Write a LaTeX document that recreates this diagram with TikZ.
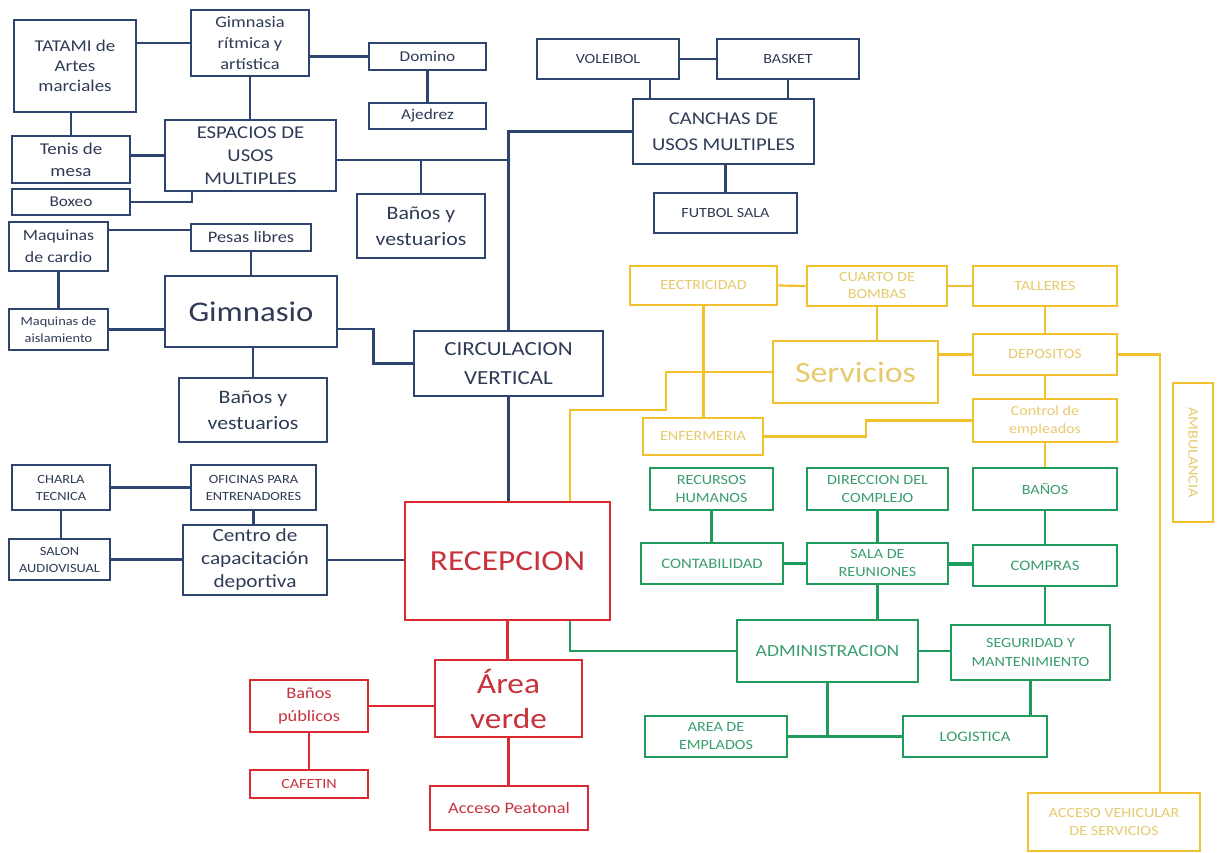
\documentclass[tikz,border=0pt]{standalone}
\usepackage{fontspec}
\setmainfont{Carlito}[FakeStretch=1.15]
\usetikzlibrary{calc}
\definecolor{bline}{HTML}{2E4470}
\definecolor{btext}{HTML}{2F3B55}
\definecolor{rline}{HTML}{DC2A32}
\definecolor{rtext}{HTML}{C8323C}
\definecolor{yline}{HTML}{F2C12E}
\definecolor{ytext}{HTML}{E6CB6E}
\definecolor{gline}{HTML}{1F9B5C}
\definecolor{gtext}{HTML}{3A9E6E}
\tikzset{
  box/.style={draw, line width=2.8pt, inner sep=1pt, align=center},
  bl/.style={box, draw=bline, text=btext},
  rd/.style={box, draw=rline, text=rtext},
  yl/.style={box, draw=yline, text=ytext},
  gr/.style={box, draw=gline, text=gtext},
  sz/.style n args={2}{minimum width=#1, minimum height=#2},
  fs/.style n args={2}{font=\fontsize{#1}{#2}\selectfont},
  bcon/.style={draw=bline, line width=2.2pt},
  rcon/.style={draw=rline, line width=2.2pt},
  ycon/.style={draw=yline, line width=2.2pt},
  gcon/.style={draw=gline, line width=2.6pt},
}
\begin{document}
\begin{tikzpicture}[x=1pt,y=-1pt]
\useasboundingbox[fill=white] (0,0) rectangle (1223,853);
% ---------- blue ----------
\node[bl, sz={122pt}{92pt}, fs={16.5}{20}] (tatami) at (75,66) {TATAMI de\\Artes\\marciales};
\node[bl, sz={118pt}{66pt}, fs={16}{21}] (gimn) at (250,43) {Gimnasia\\rítmica y\\artística};
\node[bl, sz={117pt}{27pt}, fs={15}{18}] (domino) at (427.5,56.5) {Domino};
\node[bl, sz={117pt}{26pt}, fs={15}{18}] (ajedrez) at (427.5,116) {Ajedrez};
\node[bl, sz={118pt}{47pt}, fs={16.5}{22}] (tenis) at (71,159.5) {Tenis de\\mesa};
\node[bl, sz={171pt}{71pt}, fs={18}{23}] (espacios) at (250.5,155.5) {ESPACIOS DE\\USOS\\MULTIPLES};
\node[bl, sz={118pt}{26pt}, fs={15}{18}] (boxeo) at (71,202) {Boxeo};
\node[bl, sz={128pt}{64pt}, fs={19}{26}] (banos1) at (421,226) {Baños y\\vestuarios};
\node[bl, sz={99pt}{49pt}, fs={15.5}{22}] (cardio) at (58.5,246.5) {Maquinas\\de cardio};
\node[bl, sz={120pt}{27pt}, fs={16}{18}] (pesas) at (251,237.5) {Pesas libres};
\node[bl, sz={99pt}{41pt}, fs={12.5}{17}] (aisla) at (58.5,329.5) {Maquinas de\\aislamiento};
\node[bl, sz={172pt}{71pt}, fs={28.5}{30}] (gimnasio) at (251,311.5) {Gimnasio};
\node[bl, sz={148pt}{64pt}, fs={19}{26}] (banos2) at (253,410) {Baños y\\vestuarios};
\node[bl, sz={189pt}{65pt}, fs={20}{29}] (circ) at (508.5,363.5) {CIRCULACION\\VERTICAL};
\node[bl, sz={142pt}{40pt}, fs={14}{18}] (voleibol) at (608,59) {VOLEIBOL};
\node[bl, sz={142pt}{40pt}, fs={14}{18}] (basket) at (788,59) {BASKET};
\node[bl, sz={181pt}{65pt}, fs={18}{26}] (canchas) at (723.5,131.5) {CANCHAS DE\\USOS MULTIPLES};
\node[bl, sz={143pt}{40pt}, fs={14}{18}] (futbol) at (725.5,213) {FUTBOL SALA};
\node[bl, sz={98pt}{45pt}, fs={12.5}{17}] (charla) at (61,487.5) {CHARLA\\TECNICA};
\node[bl, sz={125pt}{45pt}, fs={12.5}{17}] (oficinas) at (253.5,487.5) {OFICINAS PARA\\ENTRENADORES};
\node[bl, sz={101pt}{41pt}, fs={12.5}{17}] (salon) at (59.5,559.5) {SALON\\AUDIOVISUAL};
\node[bl, sz={144pt}{70pt}, fs={18.5}{23}] (centro) at (255,560) {Centro de\\capacitación\\deportiva};
% ---------- red ----------
\node[rd, sz={205pt}{118pt}, fs={29}{32}] (recepcion) at (507.5,561) {RECEPCION};
\node[rd, sz={147pt}{77pt}, fs={29}{35}] (area) at (508.5,698.5) {Área\\verde};
\node[rd, sz={118pt}{52pt}, fs={16}{23}] (banospub) at (309,706) {Baños\\públicos};
\node[rd, sz={118pt}{28pt}, fs={14}{18}] (cafetin) at (309,784) {CAFETIN};
\node[rd, sz={158pt}{44pt}, fs={16}{20}] (acceso) at (509,808) {Acceso Peatonal};
% ---------- yellow ----------
\node[yl, sz={147pt}{39pt}, fs={14}{18}] (elec) at (703.5,285.5) {EECTRICIDAD};
\node[yl, sz={140pt}{40pt}, fs={14}{17}] (cuarto) at (877,286) {CUARTO DE\\BOMBAS};
\node[yl, sz={144pt}{40pt}, fs={14}{18}] (talleres) at (1045,286) {TALLERES};
\node[yl, sz={165pt}{62pt}, fs={29.5}{32}] (servicios) at (855.5,372) {Servicios};
\node[yl, sz={144pt}{41pt}, fs={14}{18}] (depositos) at (1045,354.5) {DEPOSITOS};
\node[yl, sz={144pt}{43pt}, fs={14}{18}] (control) at (1045,420.5) {Control de\\empleados};
\node[yl, sz={120pt}{37pt}, fs={14}{18}] (enfer) at (703,436.5) {ENFERMERIA};
\node[yl, sz={139pt}{40pt}, fs={14}{18}, rotate=-90] (ambul) at (1193,452.5) {AMBULANCIA};
\node[yl, sz={172pt}{58pt}, fs={14}{18}] (accveh) at (1114,822) {ACCESO VEHICULAR\\DE SERVICIOS};
% ---------- green ----------
\node[gr, sz={123pt}{42pt}, fs={14}{18}] (rrhh) at (711.5,489) {RECURSOS\\HUMANOS};
\node[gr, sz={141pt}{42pt}, fs={14}{18}] (direc) at (877.5,489) {DIRECCION DEL\\COMPLEJO};
\node[gr, sz={144pt}{42pt}, fs={14}{18}] (banos3) at (1045,489) {BAÑOS};
\node[gr, sz={142pt}{41pt}, fs={14.5}{18}] (conta) at (712,563.5) {CONTABILIDAD};
\node[gr, sz={141pt}{41pt}, fs={14}{18}] (sala) at (877.5,563.5) {SALA DE\\REUNIONES};
\node[gr, sz={144pt}{41pt}, fs={14.5}{18}] (compras) at (1045,565.5) {COMPRAS};
\node[gr, sz={181pt}{62pt}, fs={17}{20}] (admin) at (827.5,651) {ADMINISTRACION};
\node[gr, sz={159pt}{55pt}, fs={14}{19}] (segur) at (1030.5,652.5) {SEGURIDAD Y\\MANTENIMIENTO};
\node[gr, sz={142pt}{41pt}, fs={14}{18}] (areaemp) at (716,736.5) {AREA DE\\EMPLADOS};
\node[gr, sz={144pt}{41pt}, fs={14.5}{18}] (logis) at (975,736.5) {LOGISTICA};
% ---------- blue connectors ----------
\draw[bcon] (tatami.east |- gimn.west) -- (gimn.west);
\draw[bcon] (gimn.east |- domino.west) -- (domino.west);
\draw[bcon] (domino) -- (ajedrez);
\draw[bcon] (gimn.south) -- (gimn.south |- espacios.north);
\draw[bcon] (tenis.north) -- (tenis.north |- tatami.south);
\draw[bcon] ([yshift=4pt]tenis.east) -- ([yshift=4pt]tenis.east -| espacios.west);
\draw[bcon] (boxeo.east) -| ([xshift=-58.5pt]espacios.south);
\coordinate (ej) at ([yshift=-4.5pt]espacios.east);
\draw[bcon] (ej) -- (ej -| circ.north);
\draw[bcon] (banos1.north) -- (banos1.north |- ej);
\draw[bcon] (circ.north) |- (canchas.west);
\draw[bcon] (voleibol.east) -- (basket.west);
\draw[bcon] ([xshift=42pt]voleibol.south) -- ([xshift=42pt]voleibol.south |- canchas.north);
\draw[bcon] (basket.south) -- (basket.south |- canchas.north);
\draw[bcon] (futbol.north) -- (futbol.north |- canchas.south);
\draw[bcon] ([yshift=16.5pt]cardio.east) -- ([yshift=16.5pt]cardio.east -| pesas.west);
\draw[bcon] (pesas.south) -- (pesas.south |- gimnasio.north);
\draw[bcon] (cardio.south) -- (cardio.south |- aisla.north);
\draw[bcon] (aisla.east) -- (aisla.east -| gimnasio.west);
\draw[bcon] ([yshift=-17.5pt]gimnasio.east) -- ++(35,0) |- (circ.west);
\draw[bcon] (banos2.north) -- (banos2.north |- gimnasio.south);
\draw[bcon] (circ.south) -- (circ.south |- recepcion.north);
\draw[bcon] (charla.east) -- (oficinas.west);
\draw[bcon] (charla.south) -- (charla.south |- salon.north);
\draw[bcon] (oficinas.south) -- (oficinas.south |- centro.north);
\draw[bcon] (salon.east) -- (salon.east -| centro.west);
\draw[bcon] (centro.east) -- (centro.east -| recepcion.west);
% ---------- red connectors ----------
\draw[rcon] (recepcion.south) -- (recepcion.south |- area.north);
\draw[rcon] (banospub.east) -- (banospub.east -| area.west);
\draw[rcon] (banospub.south) -- (cafetin.north);
\draw[rcon] (area.south) -- (area.south |- acceso.north);
% ---------- green connectors ----------
\draw[gcon] ([xshift=62.5pt]recepcion.south) |- (admin.west);
\draw[gcon] (rrhh.south) -- (rrhh.south |- conta.north);
\draw[gcon] (conta.east) -- (sala.west);
\draw[gcon] (direc.south) -- (sala.north);
\draw[gcon, line width=4pt] (sala.east) -- (sala.east -| compras.west);
\draw[gcon] (banos3.south) -- (banos3.south |- compras.north);
\draw[gcon] (sala.south) -- (sala.south |- admin.north);
\draw[gcon] (compras.south) -- (compras.south |- segur.north);
\draw[gcon] (admin.east) -- (admin.east -| segur.west);
\draw[gcon] (areaemp.east) -- (logis.west);
\draw[gcon] (admin.south) -- (admin.south |- areaemp.east);
\draw[gcon] (segur.south) -- (segur.south |- logis.north);
% ---------- yellow connectors ----------
\draw[ycon] (elec.east) -- (cuarto.west);
\draw[ycon] (cuarto.east) -- (talleres.west);
\draw[ycon] (elec.south) -- (elec.south |- enfer.north);
\draw[ycon] (cuarto.south) -- (cuarto.south |- servicios.north);
\draw[ycon] (talleres.south) -- (depositos.north);
\draw[ycon] (depositos.west) -- (depositos.west -| servicios.east);
\draw[ycon] (servicios.west) -- ++(-106,0) -- ++(0,38) -| ([xshift=62.5pt]recepcion.north);
\draw[ycon] (depositos.south) -- (control.north);
\draw[ycon] (control.west) -- ++(-106,0) |- (enfer.east);
\draw[ycon] (control.south) -- (banos3.north);
\draw[ycon] (depositos.east) -| ([xshift=46pt]accveh.north);
\end{tikzpicture}
\end{document}
